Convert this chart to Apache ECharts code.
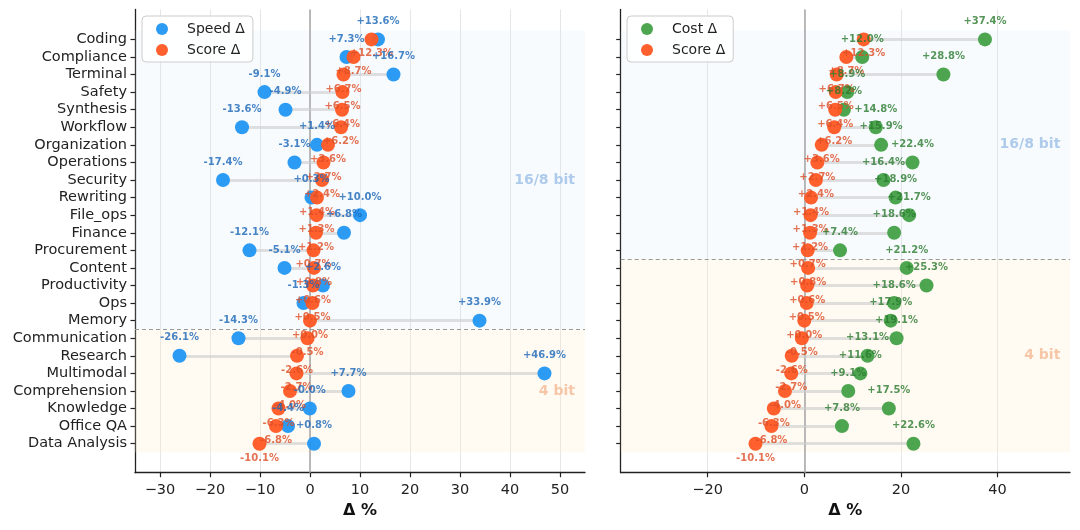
<!DOCTYPE html>
<html>
<head>
<meta charset="utf-8">
<script src="https://cdn.jsdelivr.net/npm/echarts@6/dist/echarts.min.js"></script>
<style>
  html, body { margin: 0; padding: 0; background: #fff; }
  #chart { width: 1080px; height: 530px; }
</style>
</head>
<body>
<div id="chart"></div>
<script>
const categories = ["Coding", "Compliance", "Terminal", "Safety", "Synthesis", "Workflow", "Organization",
  "Operations", "Security", "Rewriting", "File_ops", "Finance", "Procurement", "Content", "Productivity",
  "Ops", "Memory", "Communication", "Research", "Multimodal", "Comprehension", "Knowledge", "Office QA",
  "Data Analysis"];
const speedDelta = [13.6, 7.3, 16.7, -9.1, -4.9, -13.6, 1.4, -3.1, -17.4, 0.3, 10.0, 6.8, -12.1, -5.1,
  2.6, -1.3, 33.9, -14.3, -26.1, 46.9, 7.7, -0.04, -4.4, 0.8];
const scoreDelta = [12.3, 8.7, 6.7, 6.5, 6.4, 6.2, 3.6, 2.7, 2.4, 1.4, 1.3, 1.2, 0.7, 0.8,
  0.6, 0.5, 0.0, -0.5, -2.6, -2.7, -4.0, -6.3, -6.8, -10.1];
const costDelta = [37.4, 12.0, 28.8, 8.9, 8.2, 14.8, 15.9, 22.4, 16.4, 18.9, 21.7, 18.6, 7.4, 21.2,
  25.3, 18.6, 17.9, 19.1, 13.1, 11.6, 9.1, 17.5, 7.8, 22.6];
const xTicksLeft = [-30, -20, -10, 0, 10, 20, 30, 40, 50];
const xTicksRight = [-20, 0, 20, 40];
const leftSplit = 16.5;   // 16/8 bit above, 4 bit below
const rightSplit = 12.5;

const FONT = "DejaVu Sans";
const BLUE = "#2196F3", ORANGE = "#FF5722", GREEN = "#43A047";
const rowIdx = categories.map((c, i) => i);

const fmtPct = v => (v >= 0 ? "+" : "") + v.toFixed(1) + "%";
const fmtTick = v => v < 0 ? "\u2212" + Math.abs(v) : String(v);

function xAxisFor(gi, min, ticks) {
  return {
    type: "value", gridIndex: gi, min, max: 55,
    name: "Δ %", nameLocation: "middle", nameGap: 30,
    nameTextStyle: { fontFamily: FONT, fontSize: 16, fontWeight: "bold", color: "#111" },
    axisLine: { show: true, onZero: false, lineStyle: { color: "#222", width: 1.3 } },
    axisTick: { show: true, length: 4.5, lineStyle: { color: "#222", width: 1.2 }, customValues: ticks },
    axisLabel: { fontFamily: FONT, fontSize: 14.5, color: "#222", margin: 10, formatter: fmtTick, customValues: ticks },
    splitLine: { show: true, lineStyle: { color: "#e6e6e6", width: 1 } }
  };
}

function yAxisFor(gi, showLabels) {
  return {
    type: "value", gridIndex: gi, inverse: true, min: -1.7, max: 24.65,
    axisLine: { show: true, onZero: false, lineStyle: { color: "#222", width: 1.3 } },
    axisTick: { show: true, length: 4.5, lineStyle: { color: "#222", width: 1.2 }, customValues: rowIdx },
    axisLabel: { show: showLabels, fontFamily: FONT, fontSize: 14.5, color: "#222", margin: 8,
      formatter: v => categories[v] || "", customValues: rowIdx },
    splitLine: { show: false }
  };
}

function panelSeries(gi, vals, name, color, labelColor, split, zoneRows) {
  const pts = arr => arr.map((v, i) => [v, i]);
  return [
    {
      type: "lines", coordinateSystem: "cartesian2d", xAxisIndex: gi, yAxisIndex: gi, z: 1, silent: true,
      lineStyle: { color: "#cccccc", width: 3, opacity: 0.6 },
      data: categories.map((c, i) => ({ coords: [[vals[i], i], [scoreDelta[i], i]] }))
    },
    {
      name, type: "scatter", xAxisIndex: gi, yAxisIndex: gi, z: 2, symbolSize: 14,
      itemStyle: { color, opacity: 0.95 }, data: pts(vals),
      markArea: {
        silent: true, z: 1,
        data: [
          [{ yAxis: -0.5, itemStyle: { color: "rgba(200,225,250,0.15)" } }, { yAxis: split }],
          [{ yAxis: split, itemStyle: { color: "rgba(255,230,190,0.2)" } }, { yAxis: 23.5 }]
        ]
      },
      markLine: {
        silent: true, z: 1, symbol: ["none", "none"], label: { show: false },
        data: [
          { xAxis: 0, lineStyle: { color: "#aaaaaa", width: 1.6, type: "solid" } },
          { yAxis: split, lineStyle: { color: "#999999", width: 1, type: [4, 3] } }
        ]
      },
      markPoint: {
        silent: true, symbol: "circle", symbolSize: 0,
        label: { show: true, position: "inside", align: "right", formatter: "{b}",
          fontFamily: FONT, fontSize: 14, fontWeight: "bold" },
        data: [
          { name: "16/8 bit", coord: [53, zoneRows[0]], label: { color: "#aecbec" } },
          { name: "4 bit", coord: [53, zoneRows[1]], label: { color: "#f6c6a6" } }
        ]
      }
    },
    {
      name: "Score Δ", type: "scatter", xAxisIndex: gi, yAxisIndex: gi, z: 3, symbolSize: 14,
      itemStyle: { color: ORANGE, opacity: 0.95 }, data: pts(scoreDelta)
    },
    {
      type: "scatter", xAxisIndex: gi, yAxisIndex: gi, z: 5, symbolSize: 0, silent: true,
      itemStyle: { color: "transparent" }, data: pts(vals),
      label: { show: true, position: "inside", offset: [0, -18], formatter: p => fmtPct(p.value[0]),
        fontFamily: FONT, fontSize: 10, fontWeight: "bold", color: labelColor }
    },
    {
      type: "scatter", xAxisIndex: gi, yAxisIndex: gi, z: 4, symbolSize: 0, silent: true,
      itemStyle: { color: "transparent" }, data: pts(scoreDelta),
      label: { show: true, position: "inside", offset: [0, 14.5], formatter: p => fmtPct(p.value[0]),
        fontFamily: FONT, fontSize: 10, fontWeight: "bold", color: "#DD4E26" }
    }
  ];
}

function legendFor(left, names) {
  return {
    left, top: 16, orient: "vertical", data: names, icon: "circle",
    itemWidth: 12, itemHeight: 12, itemGap: 7, padding: [6, 8, 5, 14],
    borderColor: "#cccccc", borderWidth: 1, borderRadius: 4, backgroundColor: "rgba(255,255,255,0.85)",
    textStyle: { fontFamily: FONT, fontSize: 14, color: "#222", lineHeight: 14, padding: [0, 0, 0, 14] }
  };
}

const chart = echarts.init(document.getElementById("chart"), null, { renderer: "canvas" });
chart.setOption({
  animation: false,
  backgroundColor: "#ffffff",
  textStyle: { fontFamily: FONT },
  grid: [
    { left: 135, right: 495, top: 9.5, bottom: 57.3 },
    { left: 620.7, right: 10, top: 9.5, bottom: 57.3 }
  ],
  xAxis: [xAxisFor(0, -35, xTicksLeft), xAxisFor(1, -38, xTicksRight)],
  yAxis: [yAxisFor(0, true), yAxisFor(1, false)],
  legend: [legendFor(142, ["Speed Δ", "Score Δ"]), legendFor(627, ["Cost Δ", "Score Δ"])],
  series: [
    ...panelSeries(0, speedDelta, "Speed Δ", BLUE, "#1A66B8", leftSplit, [8, 20]),
    ...panelSeries(1, costDelta, "Cost Δ", GREEN, "#2A7A2E", rightSplit, [6, 18])
  ]
});
</script>
</body>
</html>
